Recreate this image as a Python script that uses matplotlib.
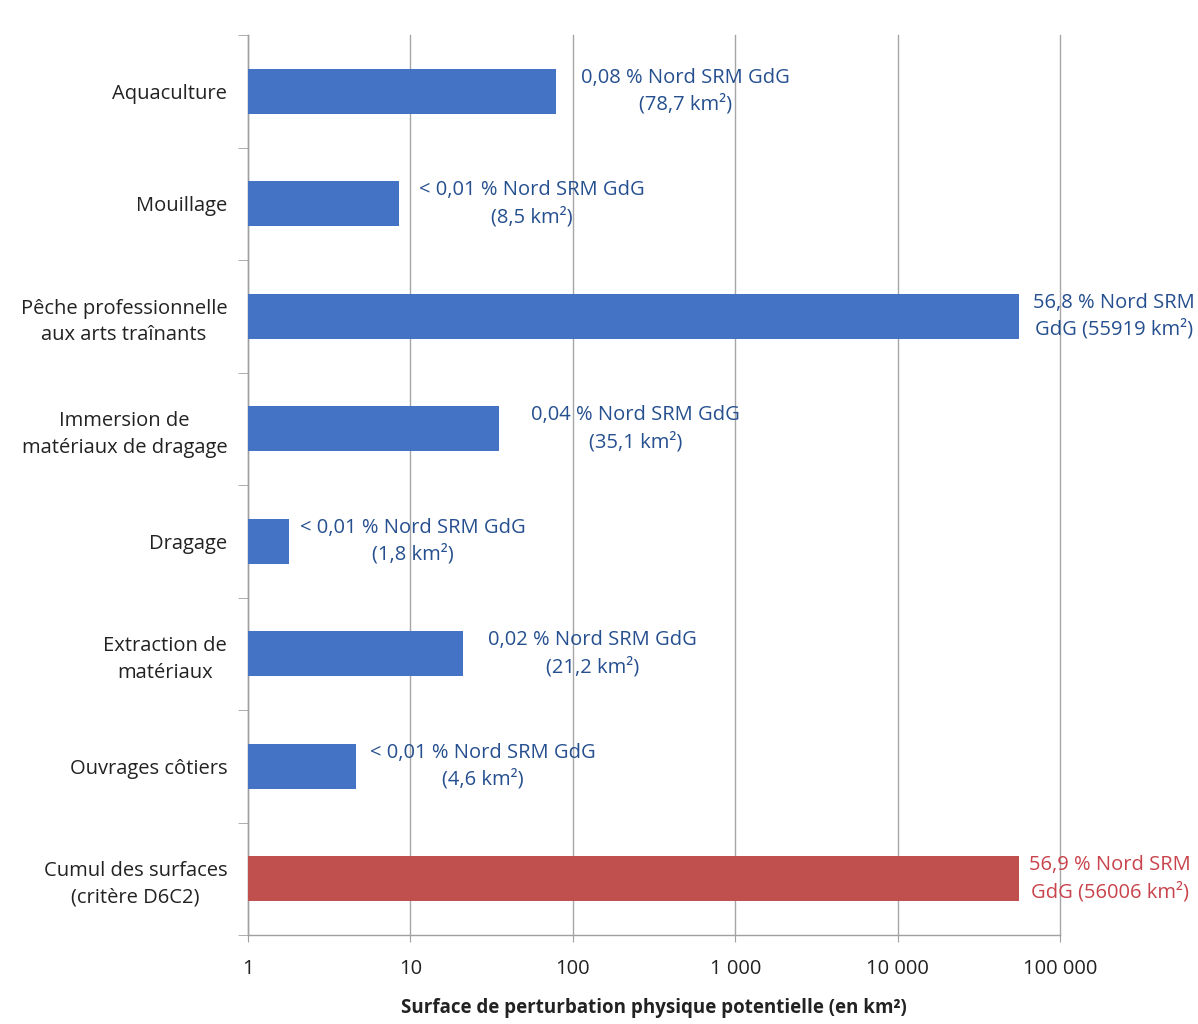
import matplotlib
matplotlib.use("Agg")
import matplotlib.pyplot as plt
from matplotlib.ticker import FixedLocator, NullLocator

categories = [
    "Aquaculture",
    "Mouillage",
    "Pêche professionnelle\naux arts traînants",
    "Immersion de\nmatériaux de dragage",
    "Dragage",
    "Extraction de\nmatériaux",
    "Ouvrages côtiers",
    "Cumul des surfaces\n(critère D6C2)",
]
surfaces_km2 = [78.7, 8.5, 55919, 35.1, 1.8, 21.2, 4.6, 56006]
bar_labels = [
    "0,08 % Nord SRM GdG\n(78,7 km²)",
    "< 0,01 % Nord SRM GdG\n(8,5 km²)",
    "56,8 % Nord SRM\nGdG (55919 km²)",
    "0,04 % Nord SRM GdG\n(35,1 km²)",
    "< 0,01 % Nord SRM GdG\n(1,8 km²)",
    "0,02 % Nord SRM GdG\n(21,2 km²)",
    "< 0,01 % Nord SRM GdG\n(4,6 km²)",
    "56,9 % Nord SRM\nGdG (56006 km²)",
]
x_ticks = [1, 10, 100, 1000, 10000, 100000]
x_tick_labels = ["1", "10", "100", "1 000", "10 000", "100 000"]
x_title = "Surface de perturbation physique potentielle (en km²)"

# styling (not data)
blue = "#4472C4"
red = "#C0504D"
text_blue = "#254F8F"
text_red = "#C8434B"
label_offsets_px = [25, 20, 14, 32, 11, 25, 14, 10]

plt.rcParams["font.family"] = ["Open Sans", "DejaVu Sans"]

fig = plt.figure(figsize=(11.98, 10.24), dpi=100)
ax = fig.add_axes([248 / 1198, 1 - 935 / 1024, (1060 - 248) / 1198, (935 - 35) / 1024])

n = len(categories)
ypos = list(range(n))
colors = [blue] * (n - 1) + [red]
ax.barh(ypos, surfaces_km2, height=0.4, color=colors, left=0, zorder=3)

ax.set_xscale("log")
ax.set_xlim(1, 100000)
ax.set_ylim(n - 0.5, -0.5)

ax.xaxis.set_major_locator(FixedLocator(x_ticks))
ax.xaxis.set_minor_locator(NullLocator())
ax.set_xticklabels(x_tick_labels, fontsize=14.5, color="#222222")
ax.tick_params(axis="x", which="major", length=5, color="#A0A0A0", pad=12)
ax.grid(axis="x", color="#A6A6A6", linewidth=1.0, zorder=0)
for gl in ax.get_xgridlines():
    gl.set_clip_on(False)

ax.set_yticks(ypos)
ax.set_yticklabels(categories, fontsize=14.5, color="#222222", multialignment="center")
for t in ax.get_yticklabels():
    t.set_linespacing(1.45)
ax.tick_params(axis="y", which="major", length=0, pad=15)
ax.set_yticks([i - 0.5 for i in range(n + 1)], minor=True)
ax.tick_params(axis="y", which="minor", length=7, color="#A0A0A0", direction="out")

for s in ["top", "right"]:
    ax.spines[s].set_visible(False)
for s in ["left", "bottom"]:
    ax.spines[s].set_color("#A0A0A0")
    ax.spines[s].set_linewidth(1.0)

ax.set_xlabel(x_title, fontsize=13.5, fontweight="bold", labelpad=14, color="#222222")

for i, (v, lab) in enumerate(zip(surfaces_km2, bar_labels)):
    c = text_red if i == n - 1 else text_blue
    ax.annotate(lab, xy=(v, i), xytext=(label_offsets_px[i] * 72 / 100, 0),
                textcoords="offset points", ha="left", va="center",
                multialignment="center", fontsize=14.5, color=c,
                linespacing=1.45, annotation_clip=False, zorder=4)

fig.savefig("out.png", dpi=100, facecolor="white")
